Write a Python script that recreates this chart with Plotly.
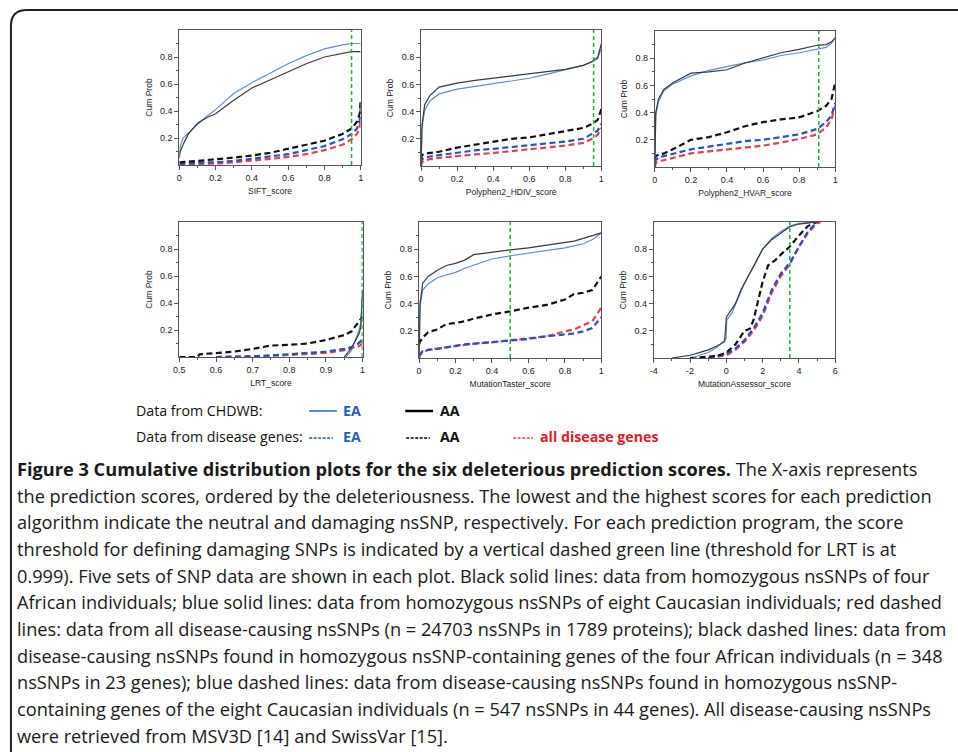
import plotly.graph_objects as go

W, H = 958, 752

# ---------------- data ----------------
panel_titles = ["SIFT_score", "Polyphen2_HDIV_score", "Polyphen2_HVAR_score",
                "LRT_score", "MutationTaster_score", "MutationAssessor_score"]
thresholds = [0.95, 0.957, 0.909, 0.999, 0.5, 3.5]

sift_x = [0, 0.005, 0.02, 0.05, 0.1, 0.15, 0.2, 0.3, 0.4, 0.5, 0.6, 0.7, 0.8, 0.9, 0.95, 0.98, 0.995, 1]
sift_ea = [0.08, 0.14, 0.2, 0.24, 0.3, 0.36, 0.41, 0.53, 0.61, 0.68, 0.75, 0.81, 0.86, 0.89, 0.9, 0.9, 0.9, 0.9]
sift_aa = [0.05, 0.1, 0.15, 0.23, 0.31, 0.35, 0.38, 0.48, 0.57, 0.63, 0.69, 0.75, 0.8, 0.83, 0.84, 0.84, 0.84, 0.84]
sift_aa_d = [0.02, 0.02, 0.02, 0.025, 0.03, 0.035, 0.04, 0.055, 0.07, 0.09, 0.12, 0.15, 0.18, 0.23, 0.27, 0.32, 0.38, 0.48]
sift_ea_d = [0.01, 0.01, 0.01, 0.01, 0.015, 0.02, 0.02, 0.03, 0.045, 0.06, 0.08, 0.11, 0.14, 0.19, 0.23, 0.27, 0.33, 0.42]
sift_all_d = [0.0, 0.0, 0.0, 0.005, 0.005, 0.01, 0.01, 0.02, 0.03, 0.045, 0.06, 0.08, 0.11, 0.15, 0.19, 0.23, 0.28, 0.36]

hdiv_x = [0, 0.005, 0.02, 0.05, 0.1, 0.2, 0.3, 0.4, 0.5, 0.6, 0.7, 0.8, 0.9, 0.95, 0.98, 1]
hdiv_aa = [0.0, 0.3, 0.45, 0.52, 0.58, 0.61, 0.63, 0.645, 0.66, 0.68, 0.69, 0.71, 0.74, 0.77, 0.8, 0.9]
hdiv_ea = [0.0, 0.28, 0.41, 0.48, 0.53, 0.565, 0.585, 0.605, 0.625, 0.645, 0.675, 0.705, 0.74, 0.765, 0.79, 0.87]
hdiv_aa_d = [0.05, 0.08, 0.09, 0.095, 0.105, 0.135, 0.155, 0.175, 0.2, 0.21, 0.235, 0.26, 0.28, 0.31, 0.34, 0.42]
hdiv_ea_d = [0.02, 0.05, 0.06, 0.07, 0.08, 0.1, 0.115, 0.126, 0.14, 0.15, 0.165, 0.18, 0.2, 0.235, 0.26, 0.31]
hdiv_all_d = [0.0, 0.03, 0.04, 0.05, 0.06, 0.075, 0.085, 0.096, 0.11, 0.12, 0.135, 0.15, 0.17, 0.2, 0.23, 0.28]

hvar_x = [0, 0.005, 0.02, 0.05, 0.1, 0.2, 0.3, 0.4, 0.5, 0.6, 0.7, 0.8, 0.9, 0.95, 0.98, 1]
hvar_aa = [0, 0.4, 0.5, 0.57, 0.62, 0.69, 0.70, 0.715, 0.765, 0.805, 0.84, 0.865, 0.895, 0.9, 0.92, 0.95]
hvar_ea = [0, 0.38, 0.48, 0.56, 0.61, 0.67, 0.71, 0.74, 0.765, 0.787, 0.82, 0.84, 0.865, 0.88, 0.91, 0.95]
hvar_aa_d = [0.06, 0.08, 0.09, 0.1, 0.13, 0.2, 0.22, 0.255, 0.3, 0.33, 0.35, 0.365, 0.41, 0.45, 0.5, 0.62]
hvar_ea_d = [0.03, 0.05, 0.07, 0.08, 0.1, 0.13, 0.15, 0.17, 0.19, 0.2, 0.22, 0.24, 0.28, 0.33, 0.38, 0.47]
hvar_all_d = [0.0, 0.03, 0.04, 0.05, 0.07, 0.1, 0.115, 0.13, 0.145, 0.157, 0.18, 0.206, 0.24, 0.29, 0.35, 0.45]

lrt_aa_x = [0.95, 0.97, 0.99, 0.995, 1.0]
lrt_aa = [0.0, 0.07, 0.17, 0.22, 0.5]
lrt_ea_x = [0.955, 0.97, 0.99, 0.995, 1.0]
lrt_ea = [0.0, 0.05, 0.2, 0.25, 0.48]
lrt_aa_d_x = [0.5, 0.55, 0.555, 0.6, 0.65, 0.7, 0.75, 0.8, 0.85, 0.9, 0.95, 0.97, 0.99, 1.0]
lrt_aa_d = [0.0, 0.0, 0.02, 0.03, 0.04, 0.06, 0.085, 0.09, 0.10, 0.126, 0.163, 0.19, 0.26, 0.3]
lrt_ea_d_x = [0.6, 0.7, 0.8, 0.9, 0.95, 0.98, 1.0]
lrt_ea_d = [0.0, 0.005, 0.02, 0.04, 0.06, 0.08, 0.13]
lrt_all_d_x = [0.6, 0.7, 0.8, 0.9, 0.95, 0.99, 1.0]
lrt_all_d = [0.0, 0.003, 0.015, 0.03, 0.05, 0.08, 0.1]

mt_x = [0, 0.005, 0.02, 0.05, 0.1, 0.15, 0.2, 0.25, 0.3, 0.4, 0.5, 0.6, 0.7, 0.8, 0.85, 0.9, 0.95, 1]
mt_aa = [0, 0.4, 0.55, 0.6, 0.645, 0.68, 0.696, 0.72, 0.76, 0.78, 0.795, 0.81, 0.83, 0.85, 0.86, 0.88, 0.9, 0.92]
mt_ea = [0, 0.38, 0.5, 0.545, 0.59, 0.61, 0.63, 0.66, 0.684, 0.728, 0.752, 0.77, 0.79, 0.81, 0.825, 0.84, 0.87, 0.92]
mt_aa_d = [0.1, 0.12, 0.15, 0.19, 0.21, 0.25, 0.257, 0.27, 0.29, 0.32, 0.343, 0.37, 0.39, 0.43, 0.47, 0.48, 0.5, 0.6]
mt_ea_d = [0.02, 0.03, 0.05, 0.06, 0.066, 0.08, 0.09, 0.1, 0.105, 0.115, 0.13, 0.14, 0.16, 0.176, 0.18, 0.196, 0.22, 0.3]
mt_all_d = [0.0, 0.02, 0.04, 0.06, 0.07, 0.08, 0.09, 0.1, 0.105, 0.115, 0.13, 0.145, 0.16, 0.196, 0.21, 0.24, 0.27, 0.37]

ma_aa_x = [-3, -2.5, -2, -1.5, -1, -0.5, -0.1, 0, 0.2, 0.5, 0.8, 1.0, 1.5, 2, 2.5, 3, 3.5, 4, 4.5, 5]
ma_aa = [0, 0.01, 0.02, 0.04, 0.06, 0.09, 0.12, 0.3, 0.34, 0.4, 0.5, 0.55, 0.67, 0.8, 0.87, 0.92, 0.965, 0.985, 0.995, 1.0]
ma_ea_x = [-1.8, -1.5, -1, -0.5, -0.02, 0.02, 0.3, 0.5, 0.8, 1.0, 1.5, 2, 2.5, 3, 3.5, 4, 5]
ma_ea = [0, 0.02, 0.04, 0.08, 0.14, 0.28, 0.33, 0.39, 0.48, 0.55, 0.67, 0.8, 0.88, 0.93, 0.97, 0.99, 1.0]
ma_aa_d_x = [-2, -1, -0.5, 0, 0.5, 1, 1.3, 1.5, 1.8, 2, 2.3, 2.7, 3, 3.5, 4, 4.5, 5]
ma_aa_d = [0, 0.01, 0.015, 0.04, 0.10, 0.2, 0.215, 0.28, 0.45, 0.56, 0.68, 0.72, 0.76, 0.82, 0.9, 0.97, 1.0]
ma_ea_d_x = [-1, 0, 0.5, 1, 1.5, 2, 2.5, 3, 3.5, 4, 4.5, 5]
ma_ea_d = [0, 0.03, 0.07, 0.13, 0.22, 0.33, 0.5, 0.62, 0.7, 0.82, 0.93, 1.0]
ma_all_d_x = [-1, 0, 0.5, 1, 1.5, 2, 2.5, 3, 3.5, 4, 4.5, 5, 5.2]
ma_all_d = [0, 0.02, 0.06, 0.12, 0.2, 0.31, 0.48, 0.6, 0.69, 0.82, 0.92, 0.99, 1.0]

y_tickvals = [0.2, 0.4, 0.6, 0.8]
y_ticktext = ["0.2", "0.4", "0.6", "0.8"]
y_minor = [0.1, 0.3, 0.5, 0.7, 0.9]
unit_tickvals = [0, 0.2, 0.4, 0.6, 0.8, 1]
unit_ticktext = ["0", "0.2", "0.4", "0.6", "0.8", "1"]
lrt_tickvals = [0.5, 0.6, 0.7, 0.8, 0.9, 1]
lrt_ticktext = ["0.5", "0.6", "0.7", "0.8", "0.9", "1"]
ma_tickvals = [-4, -2, 0, 2, 4, 6]
ma_ticktext = ["-4", "-2", "0", "2", "4", "6"]

caption_bold = "Figure 3 Cumulative distribution plots for the six deleterious prediction scores."
caption_lines = [
    " The X-axis represents",
    "the prediction scores, ordered by the deleteriousness. The lowest and the highest scores for each prediction",
    "algorithm indicate the neutral and damaging nsSNP, respectively. For each prediction program, the score",
    "threshold for defining damaging SNPs is indicated by a vertical dashed green line (threshold for LRT is at",
    "0.999). Five sets of SNP data are shown in each plot. Black solid lines: data from homozygous nsSNPs of four",
    "African individuals; blue solid lines: data from homozygous nsSNPs of eight Caucasian individuals; red dashed",
    "lines: data from all disease-causing nsSNPs (n = 24703 nsSNPs in 1789 proteins); black dashed lines: data from",
    "disease-causing nsSNPs found in homozygous nsSNP-containing genes of the four African individuals (n = 348",
    "nsSNPs in 23 genes); blue dashed lines: data from disease-causing nsSNPs found in homozygous nsSNP-",
    "containing genes of the eight Caucasian individuals (n = 547 nsSNPs in 44 genes). All disease-causing nsSNPs",
    "were retrieved from MSV3D [14] and SwissVar [15].",
]

# ---------------- styles ----------------
C_EA = "#5b8fd6"
C_AA = "#3a3a3a"
C_EA_D = "#2352c4"
C_AA_D = "#111111"
C_ALL_D = "#e8414c"
C_GREEN = "#22b036"
DASH = "6px,3.5px"
AXC = "#555555"
FONT = "Liberation Sans, Arial, sans-serif"
CAPFONT = "Open Sans, sans-serif"

def px(x):
    return x / W

def py(y):
    return 1 - y / H

# panel boxes in pixels: left, right, top, bottom
boxes = [(175, 358, 30, 165), (419, 601, 30, 166), (655, 837, 31, 167),
         (175, 360, 222, 357), (417, 601, 222, 358), (654, 837, 222, 358)]

panels = [
    dict(sx=[sift_x] * 5, ys=[sift_ea, sift_aa, sift_ea_d, sift_aa_d, sift_all_d],
         xr=[0, 1], tv=unit_tickvals, tt=unit_ticktext, minor=0.1),
    dict(sx=[hdiv_x] * 5, ys=[hdiv_ea, hdiv_aa, hdiv_ea_d, hdiv_aa_d, hdiv_all_d],
         xr=[0, 1], tv=unit_tickvals, tt=unit_ticktext, minor=0.1),
    dict(sx=[hvar_x] * 5, ys=[hvar_ea, hvar_aa, hvar_ea_d, hvar_aa_d, hvar_all_d],
         xr=[0, 1], tv=unit_tickvals, tt=unit_ticktext, minor=0.1),
    dict(sx=[lrt_ea_x, lrt_aa_x, lrt_ea_d_x, lrt_aa_d_x, lrt_all_d_x],
         ys=[lrt_ea, lrt_aa, lrt_ea_d, lrt_aa_d, lrt_all_d],
         xr=[0.5, 1], tv=lrt_tickvals, tt=lrt_ticktext, minor=0.05),
    dict(sx=[mt_x] * 5, ys=[mt_ea, mt_aa, mt_ea_d, mt_aa_d, mt_all_d],
         xr=[0, 1], tv=unit_tickvals, tt=unit_ticktext, minor=0.1),
    dict(sx=[ma_ea_x, ma_aa_x, ma_ea_d_x, ma_aa_d_x, ma_all_d_x],
         ys=[ma_ea, ma_aa, ma_ea_d, ma_aa_d, ma_all_d],
         xr=[-4, 6], tv=ma_tickvals, tt=ma_ticktext, minor=1),
]

series_styles = [
    dict(color=C_EA, width=1.2),
    dict(color=C_AA, width=1.2),
    dict(color=C_EA_D, width=2.2, dash=DASH),
    dict(color=C_AA_D, width=2.2, dash=DASH),
    dict(color=C_ALL_D, width=2.2, dash=DASH),
]
draw_order = [4, 2, 3, 0, 1]

fig = go.Figure()
layout = {}
for i, (p, box) in enumerate(zip(panels, boxes)):
    n = "" if i == 0 else str(i + 1)
    xa, ya = "x" + n, "y" + n
    l, r, t, b = box
    for k in draw_order:
        fig.add_trace(go.Scatter(x=p["sx"][k], y=p["ys"][k], mode="lines",
                                 line=series_styles[k], xaxis=xa, yaxis=ya,
                                 showlegend=False))
    fig.add_trace(go.Scatter(x=[thresholds[i], thresholds[i]], y=[0, 1], mode="lines",
                             line=dict(color=C_GREEN, width=1.5, dash="4px,3px"),
                             xaxis=xa, yaxis=ya, showlegend=False, hoverinfo="skip"))
    layout["xaxis" + n] = dict(
        domain=[px(l), px(r)], range=p["xr"], anchor=ya,
        tickvals=p["tv"], ticktext=p["tt"], ticks="outside", ticklen=4,
        tickcolor=AXC, showline=True, linecolor=AXC, linewidth=1, mirror=True,
        showgrid=False, zeroline=False,
        tickfont=dict(family=FONT, size=9, color="#222"),
        minor=dict(dtick=p["minor"], ticks="outside", ticklen=2, tickcolor=AXC),
        title=dict(text=panel_titles[i], font=dict(family=FONT, size=8.5, color="#222"),
                   standoff=6),
    )
    layout["yaxis" + n] = dict(
        domain=[py(b), py(t)], range=[0, 1], anchor=xa,
        tickvals=y_tickvals, ticktext=y_ticktext, ticks="outside", ticklen=4,
        tickcolor=AXC, showline=True, linecolor=AXC, linewidth=1, mirror=True,
        showgrid=False, zeroline=False,
        tickfont=dict(family=FONT, size=9, color="#222"),
        minor=dict(tickvals=y_minor, ticks="outside", ticklen=2, tickcolor=AXC),
        title=dict(text="Cum Prob", font=dict(family=FONT, size=8.5, color="#222"),
                   standoff=6),
    )

annotations = []
shapes = []

# legend block
LEG_FS = 14.2
leg_rows = [410, 437]
annotations.append(dict(x=px(129), y=py(leg_rows[0]), xref="paper", yref="paper",
                        text="Data from CHDWB:", showarrow=False, xanchor="left",
                        yanchor="middle", font=dict(family=CAPFONT, size=LEG_FS, color="#111")))
annotations.append(dict(x=px(129), y=py(leg_rows[1]), xref="paper", yref="paper",
                        text="Data from disease genes:", showarrow=False, xanchor="left",
                        yanchor="middle", font=dict(family=CAPFONT, size=LEG_FS, color="#111")))
leg_items = [
    (0, 306, 334, C_EA, "solid", 2, "EA", 338),
    (0, 403, 431, "#000", "solid", 2.5, "AA", 436),
    (1, 306, 330, C_EA_D, "3px,1.5px", 1.5, "EA", 338),
    (1, 404, 428, "#000", "3px,1.5px", 1.5, "AA", 436),
    (1, 512, 532, C_ALL_D, "3px,1.5px", 1.5, "all disease genes", 537),
]
for row, x0, x1, col, dash, wd, lab, tx in leg_items:
    yy = py(leg_rows[row] + 1)
    shapes.append(dict(type="line", xref="paper", yref="paper", x0=px(x0), x1=px(x1),
                       y0=yy, y1=yy, line=dict(color=col, width=wd, dash=dash)))
    tcol = "#111" if col == "#000" else ("#1f5fc0" if col in (C_EA, C_EA_D) else "#e02020")
    annotations.append(dict(x=px(tx), y=py(leg_rows[row]), xref="paper", yref="paper",
                            text="<b>" + lab + "</b>", showarrow=False, xanchor="left",
                            yanchor="middle", font=dict(family=CAPFONT, size=LEG_FS, color=tcol)))

# caption
for j, line in enumerate(caption_lines):
    txt = ("<b>" + caption_bold + "</b>" + line) if j == 0 else line
    annotations.append(dict(x=px(9), y=py(469 + j * 26.65), xref="paper", yref="paper",
                            text=txt, showarrow=False, xanchor="left", yanchor="middle",
                            font=dict(family=CAPFONT, size=18.2, color="#1a1a1a")))

# border frame (rounded top-left corner)
shapes.append(dict(type="path", xref="paper", yref="paper",
                   path=f"M {px(5)},{py(760)} L {px(5)},{py(26)} Q {px(5)},{py(10)} {px(21)},{py(10)} L {px(965)},{py(10)}",
                   line=dict(color="#222", width=2)))

fig.update_layout(**layout)
fig.update_layout(width=W, height=H, margin=dict(l=0, r=0, t=0, b=0),
                  paper_bgcolor="white", plot_bgcolor="white",
                  annotations=annotations, shapes=shapes, showlegend=False)

fig.write_html("out.html", config={"displayModeBar": False},
               post_script="document.body.style.margin='0px';document.body.style.overflow='hidden';")
